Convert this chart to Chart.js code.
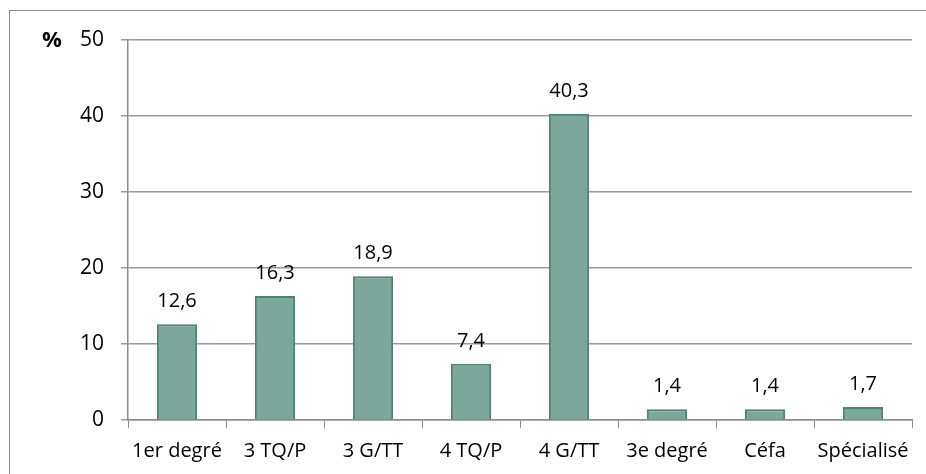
<!DOCTYPE html>
<html lang="fr">
<head>
    <meta charset="UTF-8">
    <title>Répartition</title>
    <script src="https://cdn.jsdelivr.net/npm/chart.js@4.4.0/dist/chart.umd.min.js"></script>
    <style>
        html, body {
            margin: 0;
            padding: 0;
            background: #fff;
            overflow: hidden;
        }

        .frame {
            position: absolute;
            left: 9px;
            top: 10px;
            width: 1000px;
            height: 600px;
            border: 1px solid #8a8a8a;
        }

        .chart-container {
            position: absolute;
            left: 0;
            top: 0;
            width: 926px;
            height: 474px;
        }
    </style>
</head>
<body>
    <div class="frame"></div>
    <div class="chart-container">
        <canvas id="barChart"></canvas>
    </div>

    <script>
        const categories = ['1er degré', '3 TQ/P', '3 G/TT', '4 TQ/P', '4 G/TT', '3e degré', 'Céfa', 'Spécialisé'];
        const values = [12.6, 16.3, 18.9, 7.4, 40.3, 1.4, 1.4, 1.7];
        const yTicks = [0, 10, 20, 30, 40, 50];

        const FONT = '"Open Sans", sans-serif';

        // valeurs au-dessus des barres + le "%" à côté de l'axe
        const labelPlugin = {
            id: 'valueLabels',
            afterDatasetsDraw(chart) {
                const ctx = chart.ctx;
                const meta = chart.getDatasetMeta(0);
                ctx.save();
                ctx.fillStyle = '#000';
                ctx.font = '20px ' + FONT;
                ctx.textAlign = 'center';
                ctx.textBaseline = 'alphabetic';
                meta.data.forEach((bar, i) => {
                    const txt = values[i].toFixed(1).replace('.', ',');
                    ctx.fillText(txt, bar.x, bar.y - 17);
                });

                const yScale = chart.scales.y;
                ctx.font = 'bold 22px ' + FONT;
                ctx.textBaseline = 'middle';
                ctx.fillText('%', 52, yScale.getPixelForValue(50) + 1);
                ctx.restore();
            }
        };

        new Chart(document.getElementById('barChart'), {
            type: 'bar',
            data: {
                labels: categories,
                datasets: [{
                    data: values,
                    backgroundColor: '#7ba89b',
                    borderColor: '#4f8272',
                    borderWidth: 2,
                    barPercentage: 0.41,
                    categoryPercentage: 1
                }]
            },
            options: {
                responsive: true,
                maintainAspectRatio: false,
                animation: false,
                layout: {
                    padding: { left: 0, right: 14, top: 40, bottom: 0 }
                },
                plugins: {
                    legend: { display: false },
                    tooltip: { enabled: false }
                },
                scales: {
                    x: {
                        grid: {
                            offset: true,
                            drawOnChartArea: false,
                            color: '#8a8a8a',
                            tickLength: 8
                        },
                        border: { color: '#8a8a8a', width: 1.5 },
                        ticks: {
                            color: '#000',
                            font: { family: FONT, size: 20 },
                            padding: 11,
                            maxRotation: 0,
                            autoSkip: false
                        },
                        afterFit(scale) {
                            scale.height = 54;
                        }
                    },
                    y: {
                        min: 0,
                        max: 50,
                        afterBuildTicks(scale) {
                            scale.ticks = yTicks.map(v => ({ value: v }));
                        },
                        grid: {
                            color: '#9a9a9a',
                            lineWidth: 1.5,
                            tickLength: 7
                        },
                        border: { color: '#8a8a8a', width: 1.5 },
                        ticks: {
                            color: '#000',
                            font: { family: FONT, size: 21 },
                            padding: 17
                        },
                        afterFit(scale) {
                            scale.width = 128;
                        }
                    }
                }
            },
            plugins: [labelPlugin]
        });
    </script>
</body>
</html>
